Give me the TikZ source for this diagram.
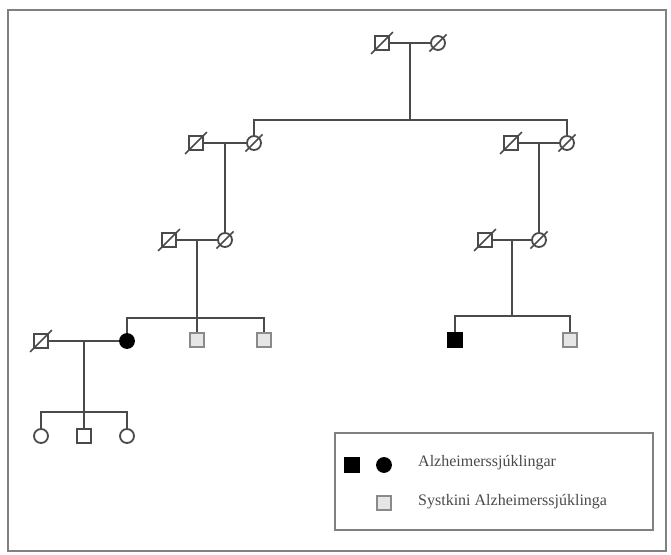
\documentclass[tikz,border=0pt]{standalone}
\usepackage{fontspec}
\setmainfont{Liberation Serif}
\usetikzlibrary{calc}
\definecolor{ln}{HTML}{4A4A4A}
\definecolor{sib}{HTML}{E6E6E6}
\definecolor{sibb}{HTML}{8A8A8A}
\tikzset{
  sq/.style={draw=ln,line width=1.8pt,rectangle,minimum size=14pt,inner sep=0pt,fill=white},
  ci/.style={draw=ln,line width=1.8pt,circle,minimum size=14pt,inner sep=0pt,fill=white},
  aff/.style={fill=black,draw=black},
  sibl/.style={draw=sibb,fill=sib,line width=1.8pt},
  conn/.style={draw=ln,line width=1.6pt},
  slash/.style={draw=ln,line width=1.6pt},
  lab/.style={anchor=west,inner sep=0pt,font=\fontsize{16}{18}\selectfont,text=ln}
}
\begin{document}
\begin{tikzpicture}[x=1pt,y=-1pt]
\useasboundingbox (0,0) rectangle (671,554);
\fill[white] (0,0) rectangle (671,554);
\draw[gray,line width=1.4pt] (8,10) rectangle (666,551);
% generation 1
\node[sq] (g1m) at (382,43) {};
\node[ci] (g1f) at (438,43) {};
% generation 2
\node[sq] (g2lm) at (196,143) {};
\node[ci] (g2lf) at (254,143) {};
\node[sq] (g2rm) at (511,143) {};
\node[ci] (g2rf) at (567,143) {};
% generation 3
\node[sq] (g3lm) at (169,240) {};
\node[ci] (g3lf) at (225,240) {};
\node[sq] (g3rm) at (485,240) {};
\node[ci] (g3rf) at (539,240) {};
% generation 4
\node[sq] (g4h) at (41,341) {};
\node[ci,aff] (g4a) at (127,341) {};
\node[sq,sibl] (g4b) at (197,340) {};
\node[sq,sibl] (g4c) at (264,340) {};
\node[sq,aff] (g4d) at (455,340) {};
\node[sq,sibl] (g4e) at (570,340) {};
% generation 5
\node[ci] (g5a) at (41,436) {};
\node[sq] (g5b) at (84,436) {};
\node[ci] (g5c) at (127,436) {};
% slashes for deceased
\foreach \n in {g1m,g1f,g2lm,g2lf,g2rm,g2rf,g3lm,g3lf,g3rm,g3rf,g4h}
  \draw[slash] ([shift={(-3pt,-3pt)}]\n.225) -- ([shift={(3pt,3pt)}]\n.45);
% junction coordinates
\coordinate (m1) at ($(g1m)!0.5!(g1f)$);
\coordinate (j1) at ($(m1)+(0,77)$);
\coordinate (m2l) at ($(g2lm)!0.5!(g2lf)$);
\coordinate (m2r) at ($(g2rm)!0.5!(g2rf)$);
\coordinate (m3l) at ($(g3lm)!0.5!(g3lf)$);
\coordinate (j3l) at ($(m3l)+(0,78)$);
\coordinate (m3r) at ($(g3rm)!0.5!(g3rf)$);
\coordinate (j3r) at ($(m3r)+(0,76)$);
\coordinate (m4) at ($(g4h)!0.5!(g4a)$);
\coordinate (j4) at ($(m4)+(0,71)$);
% connectors
\draw[conn] (g1m) -- (g1f);
\draw[conn] (m1) -- (j1);
\draw[conn] (g2lf) |- (j1) -| (g2rf);
\draw[conn] (g2lm) -- (g2lf);
\draw[conn] (g2rm) -- (g2rf);
\draw[conn] (m2l) -- (g3lf);
\draw[conn] (m2r) -- (g3rf);
\draw[conn] (g3lm) -- (g3lf);
\draw[conn] (g3rm) -- (g3rf);
\draw[conn] (m3l) -- (j3l);
\draw[conn] (g4a) |- (j3l) -| (g4c);
\draw[conn] (j3l) -- (g4b);
\draw[conn] (m3r) -- (j3r);
\draw[conn] (g4d) |- (j3r) -| (g4e);
\draw[conn] (g4h) -- (g4a);
\draw[conn] (m4) -- (j4);
\draw[conn] (g5a) |- (j4) -| (g5c);
\draw[conn] (j4) -- (g5b);
% legend
\draw[gray,line width=1.8pt,fill=white] (335,433) rectangle (653,530);
\node[sq,aff] (lsq) at (352,465) {};
\node[ci,aff] (lci) at (384,465) {};
\node[sq,sibl] (lsib) at (384,503) {};
\node[lab] (lt1) at (418,463) {Alzheimerssjúklingar};
\node[lab] (lt2) at (418,502) {Systkini Alzheimerssjúklinga};
\end{tikzpicture}
\end{document}
